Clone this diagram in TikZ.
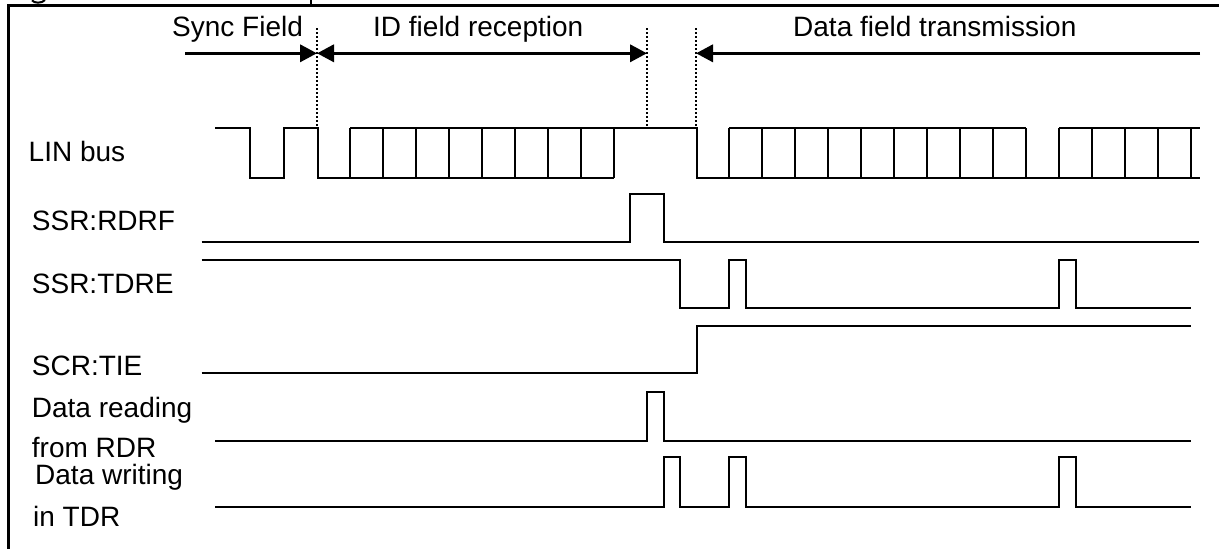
\documentclass[tikz,border=0pt]{standalone}
\usepackage{fontspec}
\setmainfont{Liberation Sans}
\usetikzlibrary{arrows.meta}
\begin{document}
\begin{tikzpicture}[x=1pt,y=-1pt,
  lbl/.style={anchor=base west,inner sep=0pt,font=\fontsize{28}{34}\selectfont},
  wave/.style={line width=2pt,line join=miter},
  guide/.style={line width=2.6pt,dash pattern=on 2.2pt off 1.8pt},
  tipA/.tip={Triangle[length=17pt,width=17pt]},
  span/.style={line width=3.6pt},
  frameline/.style={line width=3pt}]
\useasboundingbox (0,0) rectangle (1219,549);
% frame and cut-off title fragments
\draw[frameline] (8,549) -- (8,5) -- (1219,5);
\draw[line width=2pt] (32,0.3) .. controls (34,3.5) and (42,3.5) .. (45,0);
\draw[line width=2pt] (311,0) -- (311,5);
% top labels
\node[lbl] (tSync) at (172,36) {Sync Field};
\node[lbl] (tID) at (373,36) {ID field reception};
\node[lbl] (tData) at (793,36) {Data field transmission};
% guide lines
\coordinate (g1t) at (317,28); \coordinate (g1b) at (317,126);
\coordinate (g2t) at (647,28); \coordinate (g2b) at (647,126);
\coordinate (g3t) at (696,28); \coordinate (g3b) at (696,126);
\draw[guide] (g1t) -- (g1b);
\draw[guide] (g2t) -- (g2b);
\draw[guide] (g3t) -- (g3b);
% span arrows
\coordinate (sA) at (185,53.3);
\coordinate (a1) at (317,53.3);
\coordinate (a2) at (647,53.3);
\coordinate (a3) at (696,53.3);
\coordinate (eA) at (1200,53.3);
\draw[span,-tipA] (sA) -- (a1);
\draw[span,tipA-tipA] (a1) -- (a2);
\draw[span,-tipA] (eA) -- (a3);
% signal labels
\node[lbl] (lLIN) at (28.5,161.7) {LIN bus};
\node[lbl] (lRDRF) at (31.7,230) {SSR:RDRF};
\node[lbl] (lTDRE) at (31.7,293.3) {SSR:TDRE};
\node[lbl] (lTIE) at (31.7,375) {SCR:TIE};
\node[lbl] (lRd1) at (31.7,417.5) {Data reading};
\node[lbl] (lRd2) at (31.7,457.5) {from RDR};
\node[lbl] (lWr1) at (35,484) {Data writing};
\node[lbl] (lWr2) at (33,526.7) {in TDR};
% LIN bus
\def\hi{128.3}\def\lo{177.7}
\draw[wave] (215,\hi) -- (250,\hi) -- (250,\lo) -- (284,\lo) -- (284,\hi) -- (317.5,\hi) -- (317.5,\lo) -- (614,\lo);
\draw[wave] (350,\hi) -- (697,\hi) -- (697,\lo) -- (1200,\lo);
\foreach \k in {0,...,8} \draw[wave] (350+33*\k,\hi) -- (350+33*\k,\lo);
\draw[wave] (729,\hi) -- (1026,\hi);
\foreach \k in {0,...,9} \draw[wave] (729+33*\k,\hi) -- (729+33*\k,\lo);
\draw[wave] (1059,\hi) -- (1200,\hi);
\foreach \k in {0,...,4} \draw[wave] (1059+33*\k,\hi) -- (1059+33*\k,\lo);
% SSR:RDRF
\draw[wave] (201.7,242.3) -- (630,242.3) -- (630,194) -- (664.4,194) -- (664.4,242.3) -- (1199.4,242.3);
% SSR:TDRE
\draw[wave] (201.7,260) -- (680,260) -- (680,307.7) -- (729,307.7) -- (729,260) -- (746,260) -- (746,307.7) -- (1059,307.7) -- (1059,260) -- (1076,260) -- (1076,307.7) -- (1191,307.7);
% SCR:TIE
\draw[wave] (201.7,373.3) -- (697,373.3) -- (697,325.7) -- (1191,325.7);
% Data reading from RDR
\draw[wave] (215,441) -- (647,441) -- (647,391.7) -- (663.5,391.7) -- (663.5,441) -- (1191,441);
% Data writing in TDR
\draw[wave] (215,506.7) -- (663.5,506.7) -- (663.5,457.3) -- (680,457.3) -- (680,506.7) -- (729,506.7) -- (729,457.3) -- (746,457.3) -- (746,506.7) -- (1059,506.7) -- (1059,457.3) -- (1076,457.3) -- (1076,506.7) -- (1191,506.7);
\end{tikzpicture}
\end{document}
